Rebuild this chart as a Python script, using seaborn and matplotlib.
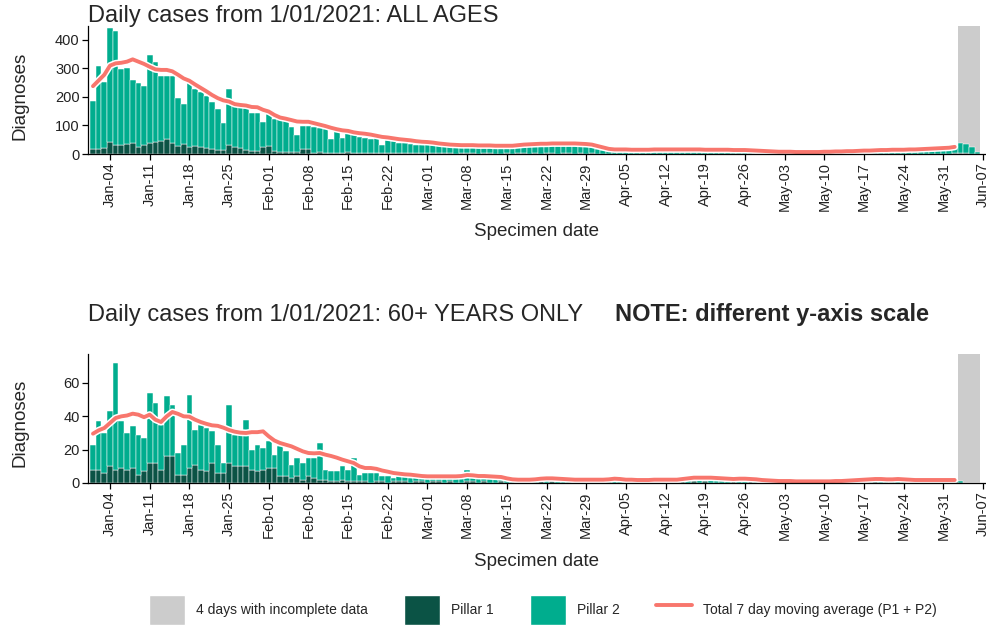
import pandas as pd
import matplotlib
matplotlib.use("Agg")
import matplotlib.pyplot as plt
import matplotlib.patheffects as pe
from matplotlib.patches import Patch
from matplotlib.lines import Line2D
import seaborn as sns

# day 0 = 1 Jan 2021 ... day 156 = 6 Jun 2021
n_days = 157
days = list(range(n_days))

tick_days = [3, 10, 17, 24, 31, 38, 45, 52, 59, 66, 73, 80, 87, 94, 101, 108,
             115, 122, 129, 136, 143, 150, 157]
tick_labels = ["Jan-04", "Jan-11", "Jan-18", "Jan-25", "Feb-01", "Feb-08", "Feb-15",
               "Feb-22", "Mar-01", "Mar-08", "Mar-15", "Mar-22", "Mar-29", "Apr-05",
               "Apr-12", "Apr-19", "Apr-26", "May-03", "May-10", "May-17", "May-24",
               "May-31", "Jun-07"]

# last 4 days (3-6 Jun) incomplete
incomplete = (152.5, 156.5)

# ---- ALL AGES ----
all_p1 = [16, 16, 20, 43, 32, 32, 35, 40, 23, 32,
          40, 43, 47, 51, 37, 28, 35, 26, 28, 23,
          21, 19, 14, 14, 30, 26, 20, 14, 12, 12,
          26, 28, 12, 7, 8, 6, 7, 19, 19, 5,
          6, 5, 4, 5, 4, 6, 4, 3, 4, 3,
          3, 2, 3, 3,
          3, 2, 3, 2, 2,
          3, 2, 2, 3, 2, 1, 2,
          2, 2, 1, 2, 2, 1, 1,
          2, 1, 2, 2, 1, 2, 1,
          2, 2, 1, 2, 2, 1, 2,
          1, 2, 1, 1, 1, 0, 1,
          1, 1, 0, 1, 1, 1, 0,
          1, 1, 1, 0, 1, 1, 1,
          1, 0, 1, 1, 1, 0, 1,
          1, 1, 0, 1, 0, 1, 0,
          0, 1, 0, 0, 1, 0, 0,
          1, 0, 1, 0, 1, 0, 1,
          1, 0, 1, 1, 0, 1, 1,
          1, 1, 1, 0, 1, 1, 1,
          1, 1, 2,
          2, 2, 1, 0]
all_p2 = [170, 294, 231, 398, 401, 265, 268, 220, 227, 208,
          307, 279, 227, 223, 237, 167, 140, 224, 199, 196,
          182, 165, 143, 94, 198, 146, 148, 146, 131, 133,
          87, 112, 111, 115, 114, 90, 60, 79, 79, 91,
          84, 82, 47, 79, 51, 66, 65, 58, 51, 50,
          52, 30, 46, 44,
          37, 36, 32, 28, 31,
          35, 31, 30, 30, 28, 26, 27,
          28, 30, 27, 25, 29, 28, 25,
          26, 32, 34, 36, 34, 31, 33,
          36, 34, 38, 34, 38, 34, 31,
          32, 24, 17, 12, 11, 11, 11,
          16, 13, 16, 14, 13, 16, 16,
          14, 16, 15, 15, 16, 15, 14,
          15, 14, 14, 15, 13, 13, 13,
          11, 12, 11, 9, 9, 7, 7,
          8, 6, 8, 6, 6, 8, 7,
          8, 8, 9, 9, 10, 10, 11,
          12, 12, 13, 14, 13, 15, 14,
          15, 14, 16, 18, 16, 19, 20,
          21, 23, 25,
          35, 33, 22, 8]
all_avg = [238, 258, 278, 310, 318, 320, 324, 332, 324, 316,
           306, 297, 295, 295, 290, 278, 265, 257, 244, 232,
           220, 207, 196, 188, 184, 175, 172, 170, 165, 164,
           155, 149, 137, 128, 124, 119, 114, 113, 113, 108,
           103, 98, 92, 87, 83, 81, 76, 73, 71, 68,
           64, 60, 58, 55,
           52, 50, 48, 45, 43,
           42, 40, 37, 35, 33, 32, 31,
           31, 31, 30, 30, 30, 29, 29,
           29, 29, 31, 33, 34, 35, 36,
           36, 37, 37, 37, 37, 37, 36,
           35, 33, 28, 23, 18, 16, 16,
           16, 15, 15, 15, 15, 16, 16,
           16, 16, 16, 16, 16, 16, 16,
           15, 15, 15, 15, 15, 14, 14,
           14, 13, 12, 11, 10, 9, 8,
           8, 8, 7, 7, 7, 7, 7,
           8, 8, 9, 9, 10, 10, 11,
           12, 12, 13, 14, 14, 15, 15,
           15, 16, 16, 17, 18, 19, 20,
           21, 22, 25]

# ---- 60+ ----
old_p1 = [8, 8, 6, 10, 8, 9, 8, 9, 5, 7,
          12, 12, 8, 16, 16, 5, 5, 9, 11, 8,
          7, 12, 6, 6, 12, 10, 10, 10, 8, 7,
          8, 9, 9, 4, 4, 3, 4, 2, 4, 3,
          2, 2, 1, 1, 2, 1, 1, 1, 1, 0,
          1, 1, 0, 1,
          1, 1, 0, 1, 1,
          0, 1, 1, 0, 1, 0, 0,
          1, 1, 0, 1, 0, 0, 1,
          0, 0, 0, 1, 0, 0, 1,
          0, 1, 0, 0, 0, 0, 1,
          0, 0, 0, 1, 0, 0, 0,
          0, 0, 1, 0, 0, 0, 0,
          0, 0, 0, 1, 0, 1, 0,
          1, 0, 0, 0, 0, 1, 0,
          0, 1, 0, 0, 0, 0, 0,
          0, 0, 0, 0, 0, 0, 0,
          0, 0, 0, 0, 0, 0, 1,
          0, 0, 1, 0, 0, 0, 0,
          0, 1, 0, 0, 0, 0, 0,
          0, 0, 1,
          0, 0, 0, 0]
old_p2 = [15, 29, 24, 33, 64, 28, 22, 25, 24, 20,
          42, 36, 27, 36, 31, 13, 18, 44, 21, 27,
          26, 19, 17, 6, 35, 19, 19, 28, 12, 16,
          13, 16, 8, 18, 15, 8, 11, 10, 11, 12,
          22, 6, 6, 6, 8, 7, 14, 4, 5, 6,
          5, 3, 4, 2,
          3, 4, 3, 3, 4,
          3, 3, 4, 3, 3, 4, 3,
          7, 3, 3, 4, 4, 3, 3,
          2, 2, 1, 1, 3, 2, 2,
          3, 1, 3, 2, 2, 1, 1,
          2, 2, 1, 1, 2, 3, 2,
          2, 1, 1, 2, 1, 2, 2,
          2, 1, 2, 2, 3, 3, 3,
          2, 3, 3, 2, 2, 2, 2,
          2, 2, 2, 1, 1, 1, 1,
          1, 1, 1, 1, 0, 1, 1,
          1, 1, 1, 1, 1, 1, 1,
          2, 2, 1, 3, 2, 2, 2,
          2, 1, 1, 2, 2, 1, 2,
          2, 1, 1,
          1, 0, 0, 0]
old_avg = [29.6, 31.6, 33, 36, 39, 40, 40.5, 41.6, 41, 39.5,
           41, 38, 36.6, 40, 42.6, 41.5, 40, 39.8, 38, 36.6,
           35.5, 34.6, 34.3, 33.2, 31.8, 30.8, 30.2, 30, 30.5, 30.5,
           31, 28, 25.5, 24, 23, 22, 20.5, 19, 18, 17.8,
           18, 17, 16.2, 15.2, 14, 13, 12, 10, 9, 9,
           8.5, 7.5, 6.8, 6,
           5.6, 5.2, 5.0, 4.6, 4.2,
           4.0, 4.0, 4.0, 4.0, 4.0, 4.0, 4.2,
           4.8, 4.6, 4.2, 4.2, 4.0, 3.8, 3.6,
           2.8, 2.2, 2.0, 2.0, 2.0, 2.2, 2.6,
           2.8, 2.8, 2.6, 2.4, 2.2, 2.0, 2.0,
           2.0, 2.0, 2.0, 2.0, 2.2, 2.6, 2.4,
           2.0, 2.0, 1.8, 1.8, 1.8, 2.0, 2.0,
           2.0, 2.0, 2.0, 2.4, 2.8, 3.2, 3.2,
           3.2, 3.2, 3.0, 2.8, 2.6, 2.4, 2.6,
           2.6, 2.4, 2.2, 1.8, 1.6, 1.4, 1.2,
           1.2, 1.2, 1.0, 1.0, 1.0, 1.0, 1.0,
           1.0, 1.0, 1.2, 1.2, 1.4, 1.6, 1.8,
           2.0, 2.2, 2.4, 2.4, 2.2, 2.2, 2.4,
           2.2, 2.0, 1.8, 1.8, 1.8, 1.8, 1.8,
           1.8, 1.8, 1.8]

GREY = "#cccccc"
DARK = "#0b5345"
TEAL = "#00ad8e"
RED = "#f8766d"

sns.set_theme(style="ticks")
plt.rcParams["font.family"] = ["Liberation Sans", "DejaVu Sans"]


def draw_panel(ax, p1, p2, avg, ymax, yticks):
    df = pd.DataFrame({"day": days + days,
                       "pillar": ["Pillar 1"] * n_days + ["Pillar 2"] * n_days,
                       "cases": p1 + p2})
    ax.axvspan(*incomplete, color=GREY, lw=0, zorder=0)
    sns.histplot(data=df, x="day", weights="cases", hue="pillar",
                 hue_order=["Pillar 2", "Pillar 1"], multiple="stack", discrete=True,
                 palette={"Pillar 1": DARK, "Pillar 2": TEAL}, alpha=1,
                 edgecolor="white", linewidth=0.35, legend=False, ax=ax)
    sns.lineplot(x=days[:len(avg)], y=avg, color=RED, lw=2.8, ax=ax,
                 path_effects=[pe.Stroke(linewidth=5.0, foreground="white"), pe.Normal()])
    ax.set_xlim(-0.88, 157.7)
    ax.set_ylim(0, ymax)
    ax.set_yticks(yticks)
    ax.set_xticks(tick_days)
    ax.set_xticklabels(tick_labels, rotation=90, fontsize=10.5, color="#222222")
    ax.tick_params(axis="y", labelsize=10.5, labelcolor="#222222")
    ax.tick_params(length=4, width=0.9, color="black", pad=2)
    ax.set_xlabel("")
    ax.set_ylabel("")
    sns.despine(ax=ax)
    for s in ["left", "bottom"]:
        ax.spines[s].set_color("black")
        ax.spines[s].set_linewidth(0.9)


fig = plt.figure(figsize=(9.87, 6.26), dpi=100)
W, H = 987, 626

ax1 = fig.add_axes([88 / W, 1 - 154 / H, (W - 88) / W, 128 / H])
draw_panel(ax1, all_p1, all_p2, all_avg, 449, [0, 100, 200, 300, 400])

ax2 = fig.add_axes([88 / W, 1 - 483 / H, (W - 88) / W, 129 / H])
draw_panel(ax2, old_p1, old_p2, old_avg, 77.4, [0, 20, 40, 60])

fig.text(88 / W, 1 - 16 / H, "Daily cases from 1/01/2021: ALL AGES",
         fontsize=17, va="center", ha="left")
fig.text(88 / W, 1 - 315 / H, "Daily cases from 1/01/2021: 60+ YEARS ONLY",
         fontsize=17, va="center", ha="left")
fig.text(615 / W, 1 - 315 / H, "NOTE: different y-axis scale",
         fontsize=17, va="center", ha="left", fontweight="bold")

for yc in [96, 423]:
    fig.text(20 / W, 1 - yc / H, "Diagnoses", rotation=90, fontsize=13.5,
             va="center", ha="center")
for yc in [232, 562]:
    fig.text(537 / W, 1 - yc / H, "Specimen date", fontsize=13.5,
             va="center", ha="center")

handles = [Patch(facecolor=GREY), Patch(facecolor=DARK), Patch(facecolor=TEAL),
           Line2D([], [], color=RED, lw=2.8)]
labels = ["4 days with incomplete data", "Pillar 1", "Pillar 2",
          "Total 7 day moving average (P1 + P2)"]
fig.legend(handles, labels, loc="center", bbox_to_anchor=(543 / W, 1 - 610 / H),
           ncol=4, frameon=False, handlelength=2.6, handleheight=2.9,
           handletextpad=0.8, columnspacing=2.6, fontsize=10, borderpad=0)

fig.savefig("out.png", dpi=100)
